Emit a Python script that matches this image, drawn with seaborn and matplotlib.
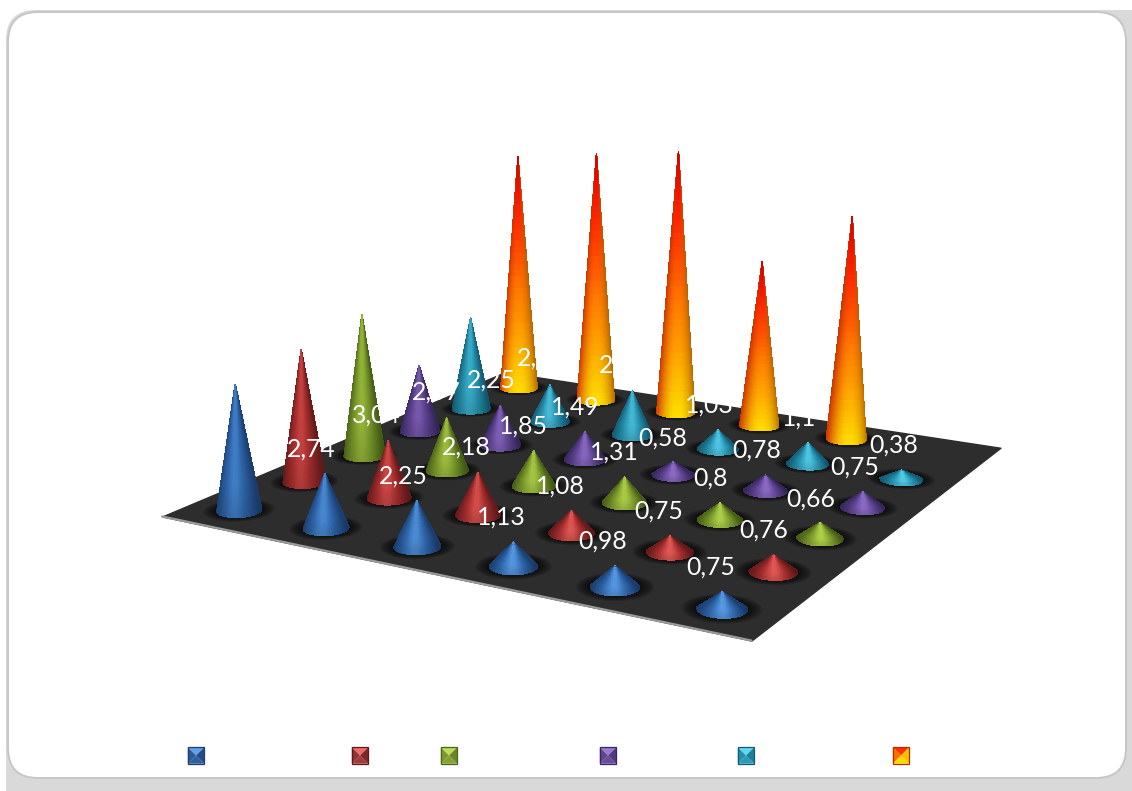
import numpy as np
import matplotlib
matplotlib.use("Agg")
import matplotlib.pyplot as plt
from matplotlib.patches import FancyBboxPatch, Polygon
from mpl_toolkits.mplot3d.art3d import Poly3DCollection
import seaborn as sns

# Cone heights per series, front row first (the sixth position of the back row is empty)
blue_heights = [1.51, 0.64, 0.53, 0.27, 0.23, 0.18]
red_heights = [1.65, 0.70, 0.51, 0.26, 0.18, 0.19]
green_heights = [1.82, 0.67, 0.44, 0.31, 0.20, 0.18]
purple_heights = [0.88, 0.52, 0.36, 0.16, 0.19, 0.19]
teal_heights = [1.27, 0.50, 0.59, 0.25, 0.27, 0.11]
orange_heights = [3.31, 3.45, 3.58, 2.22, 2.94]

# Printed figures; they come from a separate measure, not from the cone heights
label_texts = ["2,74", "3,04", "2,57", "2,25", "2,45",
               "2,25", "2,18", "1,85", "1,49", "2,09",
               "1,13", "1,08", "1,31", "0,58", "1,03",
               "0,98", "0,75", "0,8", "0,78", "1,1",
               "0,75", "0,76", "0,66", "0,75", "0,38"]
label_xy = [(311, 449), (376, 415), (436, 392), (491, 380), (541, 358),
            (403, 476), (466, 447), (523, 426), (575, 407), (623, 365),
            (501, 517), (560, 486), (614, 452), (663, 438), (709, 405),
            (603, 541), (659, 511), (710, 478), (757, 450), (799, 418),
            (711, 567), (764, 530), (811, 499), (855, 467), (894, 445)]

legend_x = [196, 360, 449, 608, 746, 901]

sns.set_theme(style="white")
plt.rcParams["font.family"] = ["Lato", "DejaVu Sans"]

W, H = 1132, 791
fig = plt.figure(figsize=(W / 100, H / 100), dpi=100, facecolor="white")

# Page frame with a soft grey shadow along the lower and right edges
frame = fig.add_axes([0, 0, 1, 1], zorder=0)
frame.set_xlim(0, W)
frame.set_ylim(H, 0)
frame.axis("off")
frame.add_patch(FancyBboxPatch((36, 40), W - 36 + 26, H - 40 + 26,
                               boxstyle="round,pad=30,rounding_size=30",
                               fc="#d9d9d9", ec="none"))
frame.add_patch(FancyBboxPatch((38, 42), 1058, 706,
                               boxstyle="round,pad=30,rounding_size=30",
                               fc="white", ec="#c6c6c6", lw=1.4))

# Perspective scene: x runs along the categories, y through the series rows
ax = fig.add_axes([96.13 / W, 43.39 / H, 990.82 / W, 990.82 / H],
                  projection="3d", proj_type="persp", focal_length=0.3912,
                  computed_zorder=False, zorder=1)
ax.patch.set_alpha(0)
ax.set_axis_off()
ax.set_box_aspect((1, 0.9926, 0.8))
ax.view_init(elev=11.27, azim=-60.73, roll=-0.21)

ax.add_collection3d(Poly3DCollection([[(0, 0, 0), (6, 0, 0), (6, 6, 0), (0, 6, 0)]],
                                     facecolors="#2d2d2d", edgecolors="#2d2d2d", zorder=1))
ax.plot([0, 6], [0, 0], [0, 0], color="#9a9a9a", lw=1.6, zorder=2)

palettes = [("#1b3d6f", "#2e65a8", "#5a9ce6"),
            ("#641a1a", "#a62e2e", "#e25c58"),
            ("#465d16", "#7a982b", "#b0d24a"),
            ("#38275e", "#5e4490", "#8f6dc8"),
            ("#125a72", "#2690ac", "#55cbe6")]
ramps = [np.array(sns.blend_palette(p, n_colors=101)) for p in palettes]
flame = np.array(sns.blend_palette(["#ffdc00", "#ffb800", "#ff9600", "#ff7800", "#ff5000",
                                    "#ff2c00", "#f01000", "#c80000"], n_colors=101))

RADIUS = 0.205
view_angle = np.deg2rad(-60.73)
phi = np.deg2rad(np.linspace(-100, 100, 81))
rise = np.linspace(0, 1, 41)


def cone_colours(row, height, rise_grid, phi_grid):
    across = np.sin(phi_grid)
    if row < 5:
        peak = 0.7 + 0.27 * np.exp(-(height / 0.6) ** 2)
        glow = np.clip(1 - np.abs(across + 0.06) ** 1.3, 0, 1) * peak
        rgb = ramps[row][(glow * 100).astype(int)]
        rgb = rgb * (0.9 + 0.12 * np.minimum(rise_grid / 0.25, 1))[..., None]
    else:
        rgb = flame[(rise_grid * 100).astype(int)]
        edge = np.where(across[..., None] < 0, [[0.80, 0.20, 0.0]], [[0.70, 0.38, 0.0]])
        weight = (0.95 * np.abs(across) ** 2.0)[..., None]
        rgb = rgb * (1 - weight) + edge * weight
    return np.clip(rgb, 0, 1)


rows = [blue_heights, red_heights, green_heights, purple_heights, teal_heights, orange_heights]

# Soft dark halo on the floor around every cone foot
ring_angles = np.linspace(0, 2 * np.pi, 49)
halo_polys = []
for r, heights in enumerate(rows):
    for c in range(len(heights)):
        for k in np.linspace(1.6, 1.05, 7):
            halo_polys.append(np.c_[c + 0.5 + k * RADIUS * np.cos(ring_angles),
                                    r + 0.5 + k * RADIUS * np.sin(ring_angles),
                                    np.zeros_like(ring_angles)])
ax.add_collection3d(Poly3DCollection(halo_polys, facecolors=(0, 0, 0, 0.14),
                                     edgecolors="none", zorder=3))

for r in range(5, -1, -1):
    for c, height in enumerate(rows[r]):
        rise_grid, phi_grid = np.meshgrid(rise, phi, indexing="ij")
        theta = phi_grid + view_angle
        X = c + 0.5 + RADIUS * (1 - rise_grid) * np.cos(theta)
        Y = r + 0.5 + RADIUS * (1 - rise_grid) * np.sin(theta)
        Z = height * rise_grid
        ax.plot_surface(X, Y, Z, facecolors=cone_colours(r, height, rise_grid, phi_grid),
                        rstride=1, cstride=1, shade=False, linewidth=0.5,
                        antialiased=False, zorder=10 + (5 - r) * 10 + c)

ax.set_xlim(0, 6)
ax.set_ylim(0, 6)
ax.set_zlim(0, 6)

# White value labels and the bevelled legend keys sit above the scene
top = fig.add_axes([0, 0, 1, 1], zorder=2)
top.set_xlim(0, W)
top.set_ylim(H, 0)
top.axis("off")
for text, (x, y) in zip(label_texts, label_xy):
    top.text(x, y, text, color="white", fontsize=17.8, ha="center", va="center")

key_colours = [("#5f9fec", "#2a5b98", "#234e85", "#2f5f9c", "#1b3d6f"),
               ("#f06a68", "#94302f", "#7f2726", "#a03b39", "#5c1a1a"),
               ("#bcdc55", "#7c9a2c", "#6b8625", "#84a132", "#4c6419"),
               ("#9a78d4", "#5e4490", "#503a7c", "#674c9b", "#38275e"),
               ("#62d6f0", "#2690ac", "#1f7d96", "#2c9ab6", "#125a72"),
               ("#ff3000", "#ff7000", "#ffc000", "#ffd800", "#b03000")]
half = 8.2
cy = 755.5
for cx, (upper, left, right, lower, rim) in zip(legend_x, key_colours):
    tl, tr = (cx - half, cy - half), (cx + half, cy - half)
    bl, br = (cx - half, cy + half), (cx + half, cy + half)
    mid = (cx, cy)
    for pts, col in (((tl, tr, mid), upper), ((tl, bl, mid), left),
                     ((tr, br, mid), right), ((bl, br, mid), lower)):
        top.add_patch(Polygon(pts, closed=True, fc=col, ec="none"))
    top.add_patch(Polygon((tl, tr, br, bl), closed=True, fc="none", ec=rim, lw=0.9))

fig.savefig("out.png", dpi=100, facecolor="white")
